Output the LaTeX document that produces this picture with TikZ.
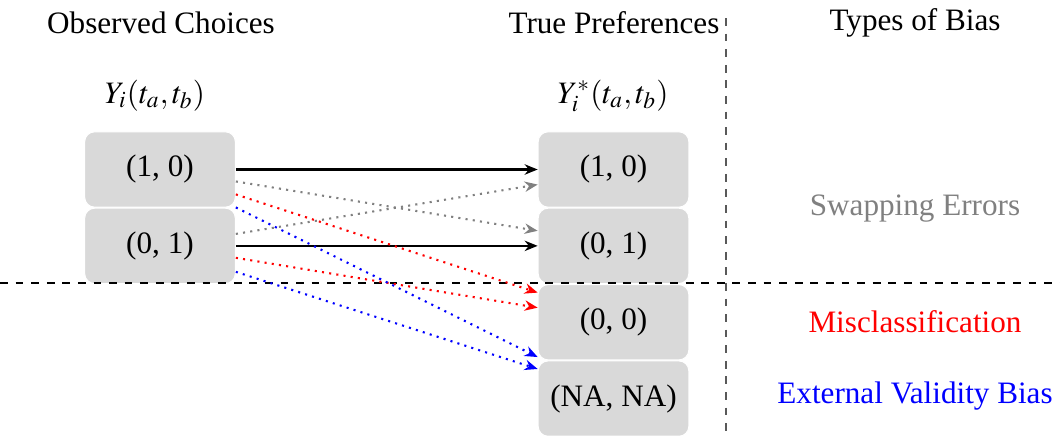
\documentclass[tikz,border=0pt]{standalone}
\usepackage{mathptmx}
\usepackage{fontspec}
\setmainfont{Liberation Serif}
\usepackage{xcolor}
\usepackage{tikz}
\usetikzlibrary{positioning,arrows.meta}
\definecolor{boxgray}{HTML}{D9D9D9}

\tikzset{
  choice/.style={fill=boxgray, draw=white, rounded corners=3.8pt, line width=0.4pt,
                 minimum width=58pt, minimum height=29pt, inner sep=0pt},
  head/.style={anchor=base, font=\fontsize{12}{14}\selectfont},
  link/.style={-{Stealth[length=5pt,width=4pt]}, thick},
  swap/.style={link, dotted, gray},
  miss/.style={link, dotted, red},
  extv/.style={link, dotted, blue}
}

\begin{document}
\begin{tikzpicture}[x=0.385pt, y=-0.385pt, font=\fontsize{12}{14}\selectfont, node distance=0pt]
\useasboundingbox (0,0) rectangle (1060,436);

\node[head] (obshead) at (161,33) {Observed Choices};
\node[head] (truehead) at (614,33) {True Preferences};
\node[head] (biashead) at (915,30) {Types of Bias};
\node[head] (obsvar) at (155,103) {$Y_i(t_a,t_b)$};
\node[head] (truevar) at (613,103) {$Y_i^*(t_a,t_b)$};

\node[choice] (obs10) at (160,169.5) {(1, 0)};
\node[choice, below=of obs10] (obs01) {(0, 1)};
\node[choice] (true10) at (613.5,169.5) {(1, 0)};
\node[choice, below=of true10] (true01) {(0, 1)};
\node[choice, below=of true01] (true00) {(0, 0)};
\node[choice, below=of true00] (trueNA) {(NA, NA)};

\draw[dashed, semithick] (0,283) -- (1060,283);
\draw[dashed, black!65] (726,18) -- (726,436);

\draw[link] (obs10.east) -- (true10.west);
\draw[link] (obs01.east) -- (true01.west);
\draw[swap] ([yshift=-4.6pt]obs10.east) -- ([yshift=5.8pt]true01.west);
\draw[swap] ([yshift=4.6pt]obs01.east) -- ([yshift=-5.8pt]true10.west);
\draw[miss] ([yshift=-9.6pt]obs10.east) -- ([yshift=11.4pt]true00.west);
\draw[miss] ([yshift=-4.6pt]obs01.east) -- ([yshift=5.6pt]true00.west);
\draw[extv] ([yshift=-14.6pt]obs10.east) -- ([yshift=16pt]trueNA.west);
\draw[extv] ([yshift=-10pt]obs01.east) -- ([yshift=11.4pt]trueNA.west);

\node[head, text=gray] (swaplabel) at (915,215) {Swapping Errors};
\node[head, text=red] (misslabel) at (915,332) {Misclassification};
\node[head, text=blue] (extvlabel) at (915,403) {External Validity Bias};
\end{tikzpicture}
\end{document}
